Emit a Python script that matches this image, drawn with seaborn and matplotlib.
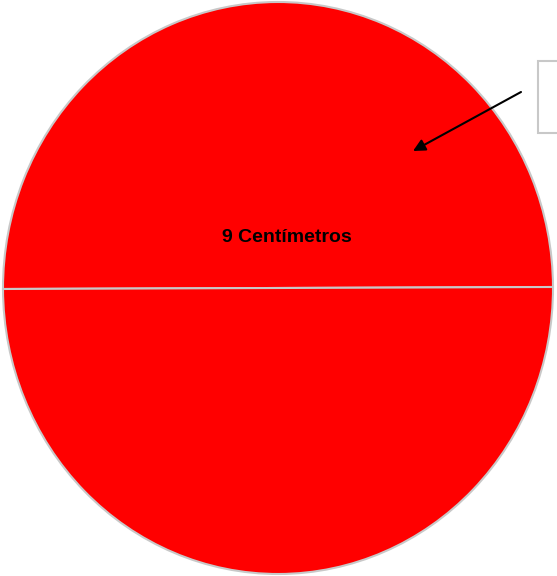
import matplotlib
matplotlib.use('Agg')
import matplotlib.pyplot as plt
import seaborn as sns
from matplotlib.patches import Rectangle

sns.set_style('white')
plt.rcParams['font.family'] = ['Liberation Sans', 'DejaVu Sans']

# the circle, split into two equal halves
parts = ['Mitad superior', 'Mitad inferior']
sizes = [1, 1]
colors = ['#ff0000', '#ff0000']
label = '9 Centímetros'

W, H = 557, 576
fig = plt.figure(figsize=(W / 100, H / 100), dpi=100)

# pie axes spanning the drawn circle (slightly taller than wide)
ax = fig.add_axes([3 / W, 1 - 574 / H, 550 / W, 572 / H])
ax.pie(sizes, colors=colors, startangle=0.2, counterclock=True,
       wedgeprops=dict(edgecolor='#c8c8c8', linewidth=1.5))
ax.set_aspect('auto')
ax.set_xlim(-1, 1)
ax.set_ylim(-1, 1)
ax.axis('off')

# overlay in pixel coords for text, arrow and the small box
ov = fig.add_axes([0, 0, 1, 1])
ov.set_xlim(0, W)
ov.set_ylim(H, 0)
ov.axis('off')
ov.patch.set_alpha(0)

ov.text(287, 237, label, ha='center', va='center', fontsize=14,
        fontweight='bold', color='black')

ov.add_patch(Rectangle((538, 61), 30, 72, facecolor='white',
                       edgecolor='#c8c8c8', linewidth=1.5, clip_on=False))

ov.annotate('', xy=(413, 151), xytext=(521, 92),
            arrowprops=dict(arrowstyle='-|>', color='black', lw=1.5,
                            mutation_scale=18, shrinkA=0, shrinkB=0))

fig.savefig('out.png', dpi=100)
